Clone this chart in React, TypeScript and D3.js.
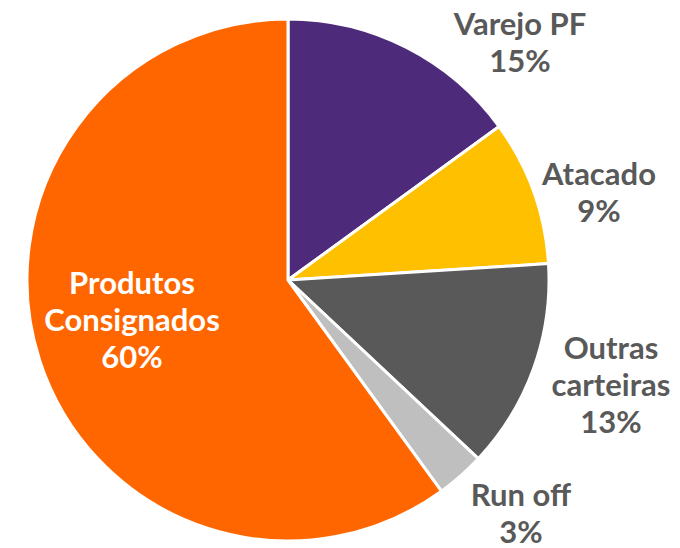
import React from "react";
import * as d3 from "d3";

const categories = ["Varejo PF", "Atacado", "Outras carteiras", "Run off", "Produtos Consignados"];
const values = [15, 9, 13, 3, 60];
const colors = ["#4E2A7A", "#FFC000", "#595959", "#BFBFBF", "#FF6600"];
const labelLines = [["Varejo PF", "15%"], ["Atacado", "9%"], ["Outras", "carteiras", "13%"], ["Run off", "3%"], ["Produtos", "Consignados", "60%"]];
const labelPos = [[520, 35], [599, 185], [611, 359], [521, 506], [132, 294]];
const labelColors = ["#595959", "#595959", "#595959", "#595959", "#FFFFFF"];

export default function App() {
  const W = 680, H = 548;
  const cx = 288, cy = 280, r = 261;
  const pie = d3.pie<number>().sort(null).value((d) => d);
  const arcs = pie(values);
  const arc = d3.arc<d3.PieArcDatum<number>>().innerRadius(0).outerRadius(r);
  return (
    <svg width={W} height={H} style={{ position: "absolute", left: 0, top: 0 }}>
      <rect width={W} height={H} fill="#fff" />
      <g transform={`translate(${cx},${cy})`}>
        {arcs.map((a, i) => (
          <path key={categories[i]} d={arc(a) || ""} fill={colors[i]} stroke="#fff" strokeWidth={3} strokeLinejoin="round" />
        ))}
      </g>
      {labelLines.map((lines, i) => (
        <text key={i} x={labelPos[i][0]} y={labelPos[i][1]} textAnchor="middle" fill={labelColors[i]}
          style={{ fontFamily: "Lato", fontWeight: 700, fontSize: 31 }}>
          {lines.map((l, j) => (
            <tspan key={j} x={labelPos[i][0]} dy={j === 0 ? 0 : 37}>{l}</tspan>
          ))}
        </text>
      ))}
    </svg>
  );
}
